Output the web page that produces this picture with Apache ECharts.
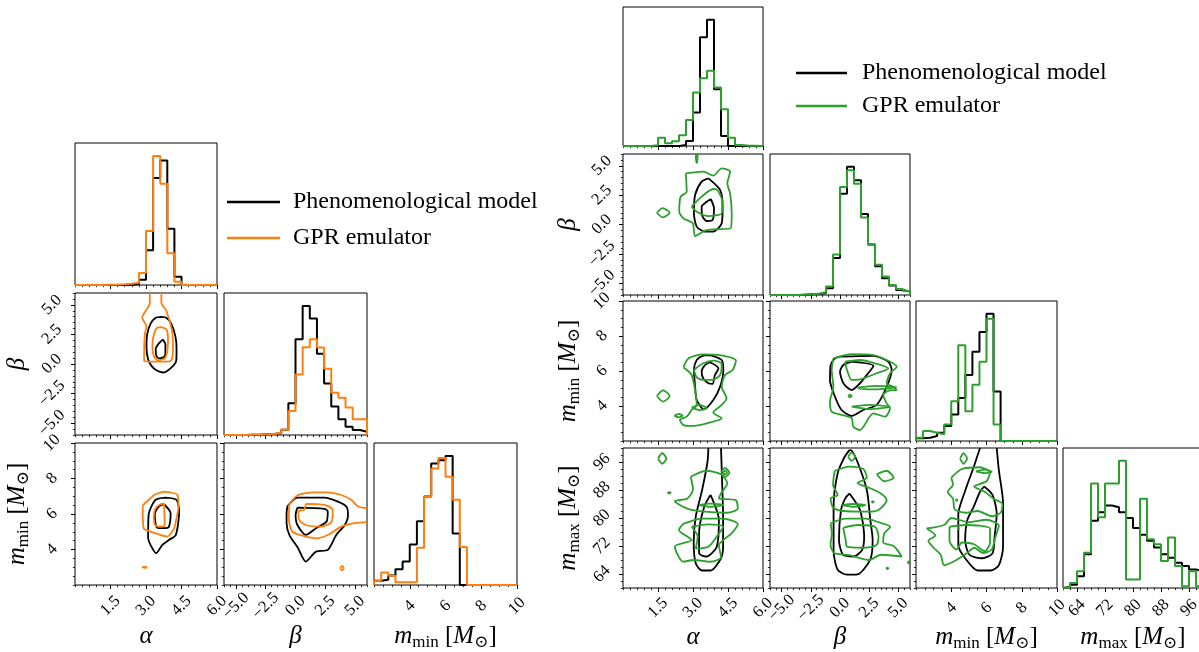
<!DOCTYPE html>
<html>
<head>
<meta charset="utf-8">
<script src="https://cdn.jsdelivr.net/npm/echarts@6/dist/echarts.min.js"></script>
<style>
  html, body { margin: 0; padding: 0; background: #fff; }
  #chart { width: 1199px; height: 652px; }
</style>
</head>
<body>
<div id="chart"></div>
<script>
// ---------- axes: ranges and tick labels ----------
const alphaRange = [0, 6];
const betaRange = [-6, 6];
const mminRange = [2, 10];
const mmaxRange = [60, 100];
const alphaTicks = [1.5, 3.0, 4.5, 6.0];
const betaTicks = [-5, -2.5, 0, 2.5, 5];
const mminTicks = [4, 6, 8, 10];
const mmaxTicks = [64, 72, 80, 88, 96];

// ---------- 1D histograms (20 bins over each range) ----------
// left corner plot: black = phenomenological model, orange = GPR emulator
const histL_alpha_black = [0, 0, 0, 0, 0, 0, 0, 0, 3, 16, 105, 323, 376, 170, 25, 0, 0, 0, 0, 0];
const histL_alpha_gpr   = [0, 0, 0, 0, 1, 1, 2, 4, 7, 36, 163, 390, 306, 96, 10, 0, 0, 0, 0, 0];
const histL_beta_black  = [0, 0, 0, 1, 1, 2, 3, 5, 16, 96, 290, 391, 353, 246, 156, 86, 48, 25, 15, 10];
const histL_beta_gpr    = [0, 0, 0, 1, 1, 2, 3, 6, 16, 73, 183, 266, 290, 265, 201, 128, 113, 83, 48, 48];
const histL_mmin_black  = [13, 16, 29, 48, 71, 123, 193, 268, 368, 378, 391, 156, 0, 0, 0, 0, 0, 0, 0, 0];
const histL_mmin_gpr    = [13, 38, 28, 8, 8, 8, 113, 268, 353, 385, 328, 258, 115, 0, 0, 0, 0, 0, 0, 0];
// right corner plot: black = phenomenological model, green = GPR emulator
const histR_alpha_black = [0, 0, 0, 0, 0, 0, 0, 0, 3, 15, 100, 325, 378, 170, 30, 0, 0, 0, 0, 0];
const histR_alpha_gpr   = [0, 0, 0, 0, 2, 25, 8, 14, 32, 78, 160, 203, 225, 175, 110, 25, 3, 1, 1, 0];
const histR_beta_black  = [0, 0, 0, 0, 1, 2, 3, 6, 20, 110, 300, 380, 340, 240, 150, 85, 50, 28, 15, 10];
const histR_beta_gpr    = [0, 0, 0, 0, 1, 2, 4, 8, 25, 120, 320, 370, 330, 230, 150, 90, 55, 30, 18, 12];
const histR_mmin_black  = [8, 10, 15, 25, 45, 80, 130, 200, 270, 330, 385, 150, 0, 0, 0, 0, 0, 0, 0, 0];
const histR_mmin_gpr    = [10, 30, 25, 20, 50, 120, 290, 90, 170, 240, 370, 50, 0, 0, 0, 0, 0, 0, 0, 0];
const histR_mmax_black  = [3, 10, 35, 100, 200, 225, 245, 240, 225, 208, 178, 158, 140, 120, 100, 90, 75, 65, 55, 50];
const histR_mmax_gpr    = [2, 15, 50, 105, 310, 210, 310, 310, 378, 25, 25, 265, 145, 130, 80, 150, 65, 5, 50, 5];

// ---------- 2D contours, [x, y] in data units ----------
// left: alpha vs beta
const contL_ab_black = [
  [[3.65,3.98],[3.86,3.90],[4.07,3.39],[4.24,2.36],[4.29,1.38],[4.28,0.31],[4.07,-0.30],[3.72,-0.72],[3.44,-0.53],[3.23,-0.16],[3.09,0.40],[3.02,1.38],[3.05,2.50],[3.19,3.39],[3.41,3.90],[3.65,3.98]],
  [[3.72,2.08],[3.82,1.66],[3.82,0.96],[3.76,0.59],[3.55,0.48],[3.44,0.68],[3.41,1.24],[3.51,1.66],[3.72,2.08]]
];
const contL_ab_gpr = [
  [[3.16,6.0],[3.16,5.16],[2.84,3.90],[3.02,3.2],[2.95,2.5],[2.92,0.3],[3.23,0.2],[3.86,0.2],[4.07,0.3],[4.14,1.38],[4.1,2.78],[3.86,4.5],[3.65,5.16],[3.65,6.0]],
  [[3.65,3.11],[3.86,2.92],[3.93,2.22],[3.90,1.10],[3.79,0.48],[3.51,0.31],[3.33,0.68],[3.27,1.52],[3.33,2.50],[3.47,3.06],[3.65,3.11]]
];
// left: alpha vs m_min
const contL_am_black = [
  [[3.83,6.92],[4.29,6.79],[4.40,6.14],[4.26,4.82],[3.97,4.54],[3.69,4.26],[3.43,3.79],[3.19,4.26],[3.09,4.63],[3.11,5.95],[3.40,6.79],[3.83,6.92]],
  [[3.76,6.55],[4.04,6.04],[3.97,5.29],[3.79,5.2],[3.47,5.23],[3.37,5.95],[3.54,6.42],[3.76,6.55]]
];
const contL_am_gpr = [
  [[3.76,7.26],[4.33,7.07],[4.37,6.42],[4.26,5.57],[4.19,5.2],[3.90,4.73],[3.19,5.01],[2.90,5.2],[2.86,6.42],[3.11,6.79],[3.40,7.11],[3.76,7.26]],
  [[3.76,6.6],[3.79,5.38],[3.69,5.29],[3.40,5.35],[3.33,5.85],[3.40,6.32],[3.61,6.55],[3.76,6.6]],
  [[2.83,3.0],[2.95,3.04],[3.02,3.0],[2.95,2.96],[2.83,3.0]]
];
// left: beta vs m_min
const contL_bm_black = [
  [[-0.69,6.42],[0.16,6.92],[2.43,6.92],[3.56,6.7],[4.27,6.42],[4.41,5.95],[4.13,5.38],[3.42,4.82],[2.71,3.98],[1.72,3.88],[0.87,3.32],[0.2,4.1],[-0.5,4.8],[-0.75,5.5],[-0.75,6.0],[-0.69,6.42]],
  [[0.16,6.36],[2.43,6.29],[2.71,6.14],[2.6,5.57],[1.72,5.2],[0.87,4.82],[0.16,5.38],[0.01,5.95],[0.16,6.36]]
];
const contL_bm_gpr = [
  [[6,6.32],[5.26,6.42],[4.7,6.79],[3.84,7.07],[2.71,7.22],[1.57,7.22],[0.16,7.04],[-0.55,6.42],[-0.55,5.67],[-0.27,5.01],[0.58,4.78],[1.72,4.63],[2.71,4.82],[3.84,5.29],[4.98,5.48],[6,5.54]],
  [[0.87,6.57],[2.43,6.51],[3.13,6.23],[3.0,5.54],[2.14,5.29],[0.87,5.38],[0.30,5.67],[0.24,6.17],[0.72,6.23],[0.87,6.57]],
  [[3.75,2.95],[3.9,3.08],[4.05,2.95],[3.9,2.82],[3.75,2.95]]
];
// right: alpha vs beta
const contR_ab_black = [
  [[3.66,3.93],[4.16,2.94],[4.27,1.52],[4.23,0.1],[3.87,-0.61],[3.51,-0.61],[3.16,-0.18],[3.04,0.95],[3.09,2.51],[3.37,3.65],[3.66,3.93]],
  [[3.76,2.17],[3.9,1.38],[3.84,0.38],[3.59,0.3],[3.4,0.72],[3.37,1.52],[3.59,1.94],[3.76,2.17]]
];
const contR_ab_gpr = [
  [[2.69,4.35],[3.44,4.5],[3.87,4.16],[4.23,4.78],[4.59,4.5],[4.47,3.5],[4.59,2.65],[4.66,0.95],[4.61,-0.33],[3.87,-0.41],[3.51,-0.52],[3.09,-0.98],[2.99,0.1],[2.59,0.52],[2.41,1.09],[2.47,2.37],[2.73,2.79],[2.69,4.35]],
  [[2.94,1.52],[3.37,2.37],[3.87,3.02],[4.01,2.99],[4.26,1.94],[4.23,0.95],[3.66,0.72],[3.16,1.09],[2.94,1.52]],
  [[1.45,1.0],[1.7,1.4],[2.0,1.0],[1.7,0.6],[1.45,1.0]],
  [[3.12,6.0],[3.14,5.25],[3.18,5.25],[3.2,6.0]]
];
// right: alpha vs m_min
const contR_am_black = [
  [[3.73,6.91],[4.23,6.63],[4.3,6.06],[4.16,5.1],[3.87,4.34],[3.47,3.81],[3.16,4.34],[3.09,5.1],[3.04,6.06],[3.16,6.63],[3.44,6.88],[3.73,6.91]],
  [[3.73,6.5],[4.09,6.15],[3.94,5.77],[3.84,5.26],[3.66,5.3],[3.44,5.58],[3.37,5.96],[3.51,6.34],[3.73,6.5]]
];
const contR_am_gpr = [
  [[2.59,6.21],[2.8,6.72],[3.44,6.95],[4.16,6.91],[4.84,6.59],[4.7,6.06],[4.37,5.77],[4.23,5.1],[4.44,4.44],[4.23,4.06],[3.87,3.62],[4.23,3.3],[3.59,3.01],[2.94,2.86],[2.59,2.91],[2.44,3.2],[2.73,3.39],[2.94,3.77],[3.16,4.06],[3.09,4.91],[2.94,5.77],[2.59,6.21]],
  [[3.04,6.06],[3.44,6.44],[3.87,6.59],[4.23,6.42],[4.16,5.77],[3.8,5.49],[3.44,5.49],[3.16,5.64],[3.04,6.06]],
  [[2.94,3.91],[3.3,4.06],[3.59,3.87],[3.3,3.77],[2.94,3.91]],
  [[1.45,4.57],[1.72,4.9],[2.0,4.57],[1.72,4.25],[1.45,4.57]],
  [[2.2,3.45],[2.4,3.55],[2.55,3.45],[2.4,3.35],[2.2,3.45]]
];
// right: beta vs m_min
const contR_bm_black = [
  [[0,6.82],[2.86,6.86],[4.14,6.53],[4.43,6.06],[4.0,5.1],[3.14,4.06],[2.0,3.77],[1.0,3.43],[0.14,3.77],[-0.43,4.53],[-0.86,5.49],[-0.8,6.34],[-0.43,6.72],[0,6.82]],
  [[1.0,6.53],[2.86,6.29],[2.29,5.77],[1.71,5.3],[1.0,4.91],[0.29,5.3],[0.0,5.96],[0.29,6.34],[1.0,6.53]]
];
const contR_bm_gpr = [
  [[-0.57,6.72],[1.0,6.97],[2.86,6.91],[4.0,6.63],[4.86,6.25],[4.29,5.87],[4.0,5.3],[4.57,5.1],[4.86,4.91],[4.29,4.9],[3.71,4.63],[4.0,4.15],[4.29,3.87],[3.86,3.39],[2.86,3.58],[1.71,2.63],[1.14,2.82],[1.0,3.3],[0.14,3.49],[-0.71,3.68],[-0.86,4.25],[-0.57,5.1],[-0.71,6.06],[-0.57,6.72]],
  [[0.43,6.53],[1.71,6.63],[3.0,6.44],[4.14,6.15],[3.14,5.87],[1.71,5.52],[1.0,5.49],[0.6,6.06],[0.43,6.53]],
  [[1.57,5.06],[3.0,5.15],[4.86,5.08],[3.0,4.95],[1.57,5.0],[1.57,5.06]],
  [[1.0,3.96],[2.5,4.06],[4.29,3.96],[2.5,3.82],[1.0,3.96]],
  [[0.7,4.57],[0.85,4.65],[1.0,4.57],[0.85,4.49],[0.7,4.57]]
];
// right: alpha vs m_max
const contR_aM_black = [
  [[3.66,100],[3.62,96],[3.39,88],[3.12,80.5],[3.03,73],[3.12,67],[3.39,65.0],[3.75,65.0],[4.2,68.5],[4.29,72],[4.29,80],[4.25,90],[4.2,100]],
  [[3.75,86.6],[4.11,79.4],[4.02,71.8],[3.57,69.0],[3.26,69.9],[3.26,75.6],[3.48,83.2],[3.75,86.6]]
];
const contR_aM_gpr = [
  [[2.9,91.8],[3.57,93.5],[4.2,92.5],[4.47,89.9],[4.2,87.0],[4.11,85.6],[4.83,85.1],[4.92,82.7],[4.47,81.5],[3.5,81.8],[2.76,82.7],[2.22,84.8],[2.76,85.6],[3.0,88.2],[2.9,91.8]],
  [[3.26,83.7],[3.75,84.1],[4.3,83.7],[3.75,83.2],[3.26,83.7]],
  [[2.58,78.3],[3.39,79.8],[4.29,79.8],[4.92,78.3],[4.65,75.6],[4.11,72.2],[4.2,68.8],[3.75,67.5],[3.03,68.0],[2.58,67.5],[2.22,71.8],[2.94,73.7],[2.4,76.6],[2.58,78.3]],
  [[2.94,77.5],[3.66,78.2],[4.29,77.5],[4.02,74.7],[3.66,71.8],[3.12,71.3],[3.2,74.7],[2.94,77.5]],
  [[1.5,97],[1.68,98.5],[1.86,97],[1.68,95.5],[1.5,97]],
  [[4.2,93],[4.38,94.3],[4.56,93],[4.38,91.7],[4.2,93]],
  [[4.3,93],[4.38,93.6],[4.46,93],[4.38,92.4],[4.3,93]],
  [[1.9,87.2],[1.98,87.4],[2.04,87.2],[1.98,87.0],[1.9,87.2]]
];
// right: beta vs m_max
const contR_bM_black = [
  [[0.81,99.4],[0.99,99.3],[1.5,96],[2.3,88],[2.6,79.4],[2.8,73.7],[2.6,68.2],[1.5,63.9],[0.6,63.8],[-0.2,65.2],[-0.55,70.8],[-0.55,83.2],[-0.2,92.8],[0.4,97.5],[0.81,99.4]],
  [[0.81,87.0],[1.71,82.3],[2.07,74.7],[1.9,70.9],[1.17,69.0],[0.27,69.5],[-0.09,73.7],[0.09,82.3],[0.45,85.6],[0.81,87.0]]
];
const contR_bM_gpr = [
  [[-0.45,93.5],[0.8,94.7],[2.0,94.0],[2.3,91.5],[1.5,90.0],[2.6,88.5],[3.5,87.0],[4.0,85.1],[3.3,82.3],[2.3,81.8],[0.27,82.0],[-0.6,83.0],[-0.8,85.6],[-0.2,86.6],[-0.6,89.5],[-0.45,93.5]],
  [[3.15,92.5],[4.0,93.5],[4.6,91.5],[3.8,90.5],[3.15,92.5]],
  [[0.7,97.5],[0.99,98.7],[1.3,97.5],[0.99,96.3],[0.7,97.5]],
  [[-0.81,78.5],[0.5,79.8],[2.2,79.8],[3.3,78.8],[4.3,77.5],[3.8,75.6],[3.7,73.0],[4.6,72.0],[5.3,69.0],[3.5,69.5],[2.5,68.0],[0.8,69.4],[-0.5,70.0],[-0.81,72.5],[-0.7,75.6],[-0.81,78.5]],
  [[0.27,77.2],[1.5,78.0],[3.0,77.5],[3.3,74.7],[3.1,72.2],[1.8,71.5],[0.6,71.8],[0.5,73.5],[0.27,77.2]],
  [[0.2,83.7],[1.2,84.0],[2.2,83.7],[1.2,83.2],[0.2,83.7]],
  [[2.7,84.6],[2.8,84.8],[2.9,84.6],[2.8,84.4],[2.7,84.6]],
  [[3.95,65.6],[4.05,65.8],[4.15,65.6],[4.05,65.4],[3.95,65.6]],
  [[5.8,67.3],[5.9,67.6],[6.0,67.3],[5.9,67.0],[5.8,67.3]]
];
// right: m_min vs m_max
const contR_mM_black = [
  [[5.63,100],[5.27,94.5],[4.79,87.8],[4.4,81.0],[4.4,72.2],[4.79,68.5],[5.5,65.0],[6.22,65.0],[6.7,66.5],[6.94,71.8],[6.94,84.2],[6.7,93.7],[6.58,100]],
  [[5.87,89.0],[6.34,86.6],[6.58,81.3],[6.46,74.7],[6.34,69.9],[5.75,68.5],[5.03,69.5],[4.79,73.7],[4.91,79.4],[5.27,83.2],[5.63,87.5],[5.87,89.0]]
];
const contR_mM_gpr = [
  [[4.0,91.5],[4.6,94.0],[5.6,94.5],[6.2,93.0],[6.0,90.5],[5.3,89.0],[5.9,87.5],[6.4,85.5],[6.9,84.0],[6.8,81.5],[6.3,80.5],[5.5,82.0],[4.8,81.5],[4.2,82.5],[4.1,85.5],[3.8,87.5],[4.1,89.5],[4.0,91.5]],
  [[2.6,77.0],[3.6,78.0],[4.0,80.0],[5.0,78.8],[6.0,79.5],[6.7,77.8],[6.5,74.5],[6.3,71.0],[5.8,70.0],[5.3,71.5],[4.9,70.0],[4.3,68.0],[3.6,66.5],[3.4,69.5],[3.0,71.5],[2.7,73.5],[3.1,75.0],[2.6,77.0]],
  [[3.9,77.5],[4.8,78.0],[5.6,77.8],[6.2,77.0],[6.2,73.0],[5.9,70.5],[5.3,72.5],[4.6,73.0],[4.3,71.0],[3.9,73.5],[3.9,77.5]],
  [[4.5,97],[4.7,98.5],[4.9,97],[4.7,95.5],[4.5,97]],
  [[5.4,93.3],[5.9,93.8],[6.3,93.2],[5.9,92.8],[5.4,93.3]],
  [[4.25,85.1],[4.3,85.3],[4.35,85.1],[4.3,84.9],[4.25,85.1]],
  [[4.35,77.0],[4.4,77.2],[4.45,77.0],[4.4,76.8],[4.35,77.0]]
];

// ---------- legend texts ----------
const nameModel = 'Phenomenological model';
const nameGPR = 'GPR emulator';

// ---------- style ----------
const SERIF = '"Liberation Serif", "DejaVu Serif", serif';
const BLACK = '#000000', ORANGE = '#ff7f0e', GREEN = '#2ca02c';

const RICH = {
  i: { fontFamily: SERIF, fontStyle: 'italic', fontSize: 25, lineHeight: 30, color: '#000' },
  r: { fontFamily: SERIF, fontSize: 25, lineHeight: 30, color: '#000' },
  s: { fontFamily: SERIF, fontSize: 17, lineHeight: 17, verticalAlign: 'bottom', color: '#000' }
};

const VARS = {
  alpha: { range: alphaRange, ticks: alphaTicks, minor: 0.3, dec: 1, title: '{i|α}' },
  beta:  { range: betaRange,  ticks: betaTicks,  minor: 0.5, dec: 1, title: '{i|β}' },
  mmin:  { range: mminRange,  ticks: mminTicks,  minor: 0.5, dec: 0, title: '{i|m}{s|min}{r| [}{i|M}{s|⊙}{r|]}' },
  mmax:  { range: mmaxRange,  ticks: mmaxTicks,  minor: 2,   dec: 0, title: '{i|m}{s|max}{r| [}{i|M}{s|⊙}{r|]}' }
};

function fmt(dec) {
  return v => (v < 0 ? '\u2212' : '') + Math.abs(v).toFixed(dec);
}
function minorVals(v) {
  const out = [];
  for (let t = v.range[0]; t <= v.range[1] + 1e-9; t += v.minor) out.push(+t.toFixed(4));
  return out;
}

const grids = [], xAxes = [], yAxes = [], series = [];
const minorX = [], minorY = [];
const TICK_FONT = 16.5;

function histLine(gi, v, h, color, name) {
  const w = (v.range[1] - v.range[0]) / h.length;
  const data = [[v.range[0], 0]];
  h.forEach((val, k) => data.push([v.range[0] + k * w, val]));
  data.push([v.range[1], h[h.length - 1]]);
  data.push([v.range[1], 0]);
  return {
    type: 'line', name, xAxisIndex: gi, yAxisIndex: gi, data, step: 'end',
    symbol: 'none', silent: true, lineStyle: { color, width: 2 }, itemStyle: { color }
  };
}
function contourLines(gi, polys, color, name) {
  return polys.map(p => ({
    type: 'line', name, xAxisIndex: gi, yAxisIndex: gi, data: p, smooth: 0.25,
    symbol: 'none', silent: true, lineStyle: { color, width: 1.8 }, itemStyle: { color }
  }));
}

function addCorner(cfg) {
  const n = cfg.vars.length;
  for (let i = 0; i < n; i++) {
    for (let j = 0; j <= i; j++) {
      const gi = grids.length;
      grids.push({
        left: cfg.cols[j], top: cfg.rows[i], width: cfg.w[j], height: cfg.h[i],
        show: true, borderColor: '#000', borderWidth: 1, backgroundColor: 'transparent',
        containLabel: false, outerBoundsMode: 'none'
      });
      const xv = VARS[cfg.vars[j]];
      const bottom = i === n - 1;
      const xAxis = {
        gridIndex: gi, type: 'value', position: 'bottom', min: xv.range[0], max: xv.range[1],
        axisLine: { show: false, onZero: false }, splitLine: { show: false },
        axisTick: { show: true, customValues: xv.ticks, length: 4, lineStyle: { color: '#000', width: 1 } },
        axisLabel: {
          show: bottom, customValues: xv.ticks, rotate: 45, align: 'center', verticalAlign: 'middle',
          margin: cfg.xLabelMargin, fontFamily: SERIF, fontSize: TICK_FONT, color: '#000', formatter: fmt(xv.dec)
        }
      };
      if (bottom) Object.assign(xAxis, {
        name: xv.title, nameLocation: 'middle', nameGap: cfg.xNameGap, nameMoveOverlap: false,
        nameTextStyle: { rich: RICH }
      });
      xAxes.push(xAxis);
      minorX.push({
        gridIndex: gi, type: 'value', position: 'bottom', min: xv.range[0], max: xv.range[1],
        axisLine: { show: false, onZero: false }, splitLine: { show: false }, axisLabel: { show: false },
        axisTick: { show: true, customValues: minorVals(xv), length: 2.2, lineStyle: { color: '#000', width: 0.8 } }
      });

      if (i === j) {
        const [hb, hc] = cfg.hist[cfg.vars[i]];
        const ymax = 1.1 * Math.max(...hb, ...hc);
        yAxes.push({ gridIndex: gi, type: 'value', position: 'left', min: 0, max: ymax, show: false, axisLine: { onZero: false } });
        series.push(histLine(gi, xv, hb, BLACK, cfg.nameModel));
        series.push(histLine(gi, xv, hc, cfg.color, cfg.nameGPR));
      } else {
        const yv = VARS[cfg.vars[i]];
        const left = j === 0;
        const yAxis = {
          gridIndex: gi, type: 'value', position: 'left', min: yv.range[0], max: yv.range[1],
          axisLine: { show: false, onZero: false }, splitLine: { show: false },
          axisTick: { show: true, customValues: yv.ticks, length: 4, lineStyle: { color: '#000', width: 1 } },
          axisLabel: {
            show: left, customValues: yv.ticks, rotate: 45, align: 'center', verticalAlign: 'middle',
            margin: cfg.yLabelMargin, fontFamily: SERIF, fontSize: TICK_FONT, color: '#000', formatter: fmt(yv.dec)
          }
        };
        if (left) Object.assign(yAxis, {
          name: yv.title, nameLocation: 'middle', nameGap: cfg.yNameGap, nameRotate: 90, nameMoveOverlap: false,
          nameTextStyle: { rich: RICH }
        });
        yAxes.push(yAxis);
        minorY.push({
          gridIndex: gi, type: 'value', position: 'left', min: yv.range[0], max: yv.range[1],
          axisLine: { show: false, onZero: false }, splitLine: { show: false }, axisLabel: { show: false },
          axisTick: { show: true, customValues: minorVals(yv), length: 2.2, lineStyle: { color: '#000', width: 0.8 } }
        });
        const key = cfg.vars[j] + '_' + cfg.vars[i];
        const [cb, cc] = cfg.cont[key];
        series.push(...contourLines(gi, cb, BLACK, cfg.nameModel));
        series.push(...contourLines(gi, cc, cfg.color, cfg.nameGPR));
      }
    }
  }
}

addCorner({
  vars: ['alpha', 'beta', 'mmin'],
  cols: [75, 224, 374], w: [142, 143, 143],
  rows: [143, 293, 443], h: [142, 142, 142],
  color: ORANGE, nameModel: nameModel, nameGPR: nameGPR,
  xNameGap: 36, yNameGap: 43, xLabelMargin: 21, yLabelMargin: 23,
  hist: {
    alpha: [histL_alpha_black, histL_alpha_gpr],
    beta: [histL_beta_black, histL_beta_gpr],
    mmin: [histL_mmin_black, histL_mmin_gpr]
  },
  cont: {
    alpha_beta: [contL_ab_black, contL_ab_gpr],
    alpha_mmin: [contL_am_black, contL_am_gpr],
    beta_mmin: [contL_bm_black, contL_bm_gpr]
  }
});

addCorner({
  vars: ['alpha', 'beta', 'mmin', 'mmax'],
  cols: [623, 770, 916, 1063], w: [140, 140, 141, 140],
  rows: [7, 154, 301, 448], h: [139, 141, 140, 140],
  color: GREEN, nameModel: nameModel + '\u00a0', nameGPR: nameGPR + '\u00a0',
  xNameGap: 34, yNameGap: 40, xLabelMargin: 20, yLabelMargin: 21,
  hist: {
    alpha: [histR_alpha_black, histR_alpha_gpr],
    beta: [histR_beta_black, histR_beta_gpr],
    mmin: [histR_mmin_black, histR_mmin_gpr],
    mmax: [histR_mmax_black, histR_mmax_gpr]
  },
  cont: {
    alpha_beta: [contR_ab_black, contR_ab_gpr],
    alpha_mmin: [contR_am_black, contR_am_gpr],
    beta_mmin: [contR_bm_black, contR_bm_gpr],
    alpha_mmax: [contR_aM_black, contR_aM_gpr],
    beta_mmax: [contR_bM_black, contR_bM_gpr],
    mmin_mmax: [contR_mM_black, contR_mM_gpr]
  }
});

const legendText = { fontFamily: SERIF, fontSize: 24, color: '#000', padding: [0, 0, 0, 8] };

const chart = echarts.init(document.getElementById('chart'));
chart.setOption({
  animation: false,
  backgroundColor: '#ffffff',
  grid: grids,
  xAxis: xAxes.concat(minorX),
  yAxis: yAxes.concat(minorY),
  legend: [
    {
      left: 222, top: 185, orient: 'vertical', icon: 'rect', itemWidth: 53, itemHeight: 2.5,
      itemGap: 12, selectedMode: false, textStyle: legendText,
      data: [nameModel, nameGPR]
    },
    {
      left: 791, top: 56, orient: 'vertical', icon: 'rect', itemWidth: 51, itemHeight: 2.5,
      itemGap: 9, selectedMode: false, textStyle: Object.assign({}, legendText, { padding: [0, 0, 0, 10] }),
      data: [nameModel + '\u00a0', nameGPR + '\u00a0']
    }
  ],
  series: series
});
</script>
</body>
</html>
